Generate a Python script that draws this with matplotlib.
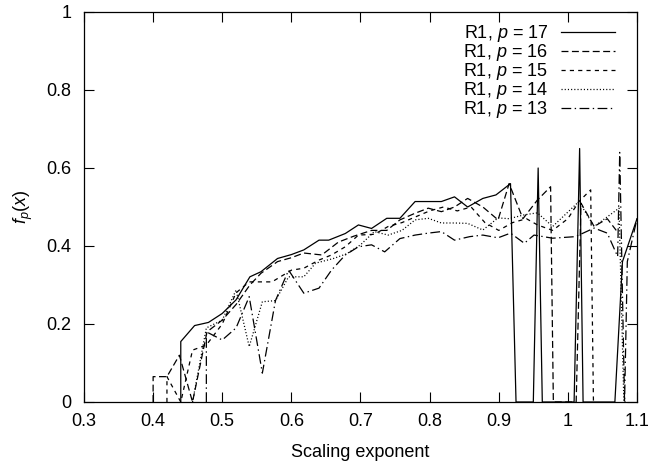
import matplotlib
matplotlib.use('Agg')
import matplotlib.pyplot as plt
from matplotlib.ticker import FormatStrFormatter

# values (scaling exponent vs f_p(x))
x17 = [0.44, 0.44, 0.46, 0.48, 0.50, 0.52, 0.54, 0.556, 0.58, 0.60, 0.618, 0.64, 0.654,
       0.678, 0.697, 0.716, 0.738, 0.757, 0.779, 0.80, 0.817, 0.836, 0.855, 0.877, 0.896,
       0.917, 0.925, 0.95, 0.957, 0.963, 1.009, 1.017, 1.022, 1.068, 1.079, 1.10]
y17 = [0.0, 0.155, 0.196, 0.204, 0.227, 0.262, 0.321, 0.334, 0.368, 0.378, 0.39, 0.415,
       0.415, 0.432, 0.454, 0.445, 0.471, 0.471, 0.514, 0.514, 0.514, 0.526, 0.50, 0.522,
       0.531, 0.56, 0.0, 0.0, 0.60, 0.0, 0.0, 0.65, 0.0, 0.0, 0.36, 0.47]

x16 = [0.40, 0.40, 0.42, 0.438, 0.457, 0.478, 0.50, 0.52, 0.54, 0.556, 0.58, 0.60, 0.618,
       0.644, 0.668, 0.69, 0.716, 0.738, 0.757, 0.779, 0.798, 0.817, 0.836, 0.855, 0.877,
       0.899, 0.915, 0.935, 0.956, 0.975, 0.979, 1.012, 1.019, 1.038, 1.057, 1.07]
y16 = [0.0, 0.065, 0.065, 0.12, 0.0, 0.18, 0.21, 0.25, 0.30, 0.33, 0.36, 0.37, 0.382,
       0.377, 0.41, 0.425, 0.44, 0.44, 0.467, 0.484, 0.497, 0.488, 0.50, 0.522, 0.50,
       0.467, 0.56, 0.47, 0.518, 0.552, 0.0, 0.0, 0.51, 0.45, 0.47, 0.44]

x15 = [0.42, 0.42, 0.44, 0.457, 0.477, 0.50, 0.52, 0.539, 0.572, 0.60, 0.618, 0.64, 0.658,
       0.678, 0.697, 0.72, 0.74, 0.76, 0.78, 0.80, 0.82, 0.84, 0.86, 0.88, 0.90, 0.92,
       0.94, 0.956, 0.978, 1.00, 1.016, 1.033, 1.037]
y15 = [0.0, 0.065, 0.0, 0.133, 0.146, 0.20, 0.28, 0.308, 0.308, 0.338, 0.343, 0.364, 0.377,
       0.398, 0.428, 0.43, 0.45, 0.46, 0.475, 0.49, 0.50, 0.49, 0.50, 0.46, 0.44, 0.46,
       0.47, 0.454, 0.44, 0.47, 0.514, 0.544, 0.0]

x14 = [0.457, 0.477, 0.50, 0.52, 0.539, 0.558, 0.577, 0.596, 0.618, 0.635, 0.661, 0.68,
       0.70, 0.72, 0.74, 0.76, 0.779, 0.798, 0.817, 0.836, 0.855, 0.877, 0.899, 0.915,
       0.937, 0.956, 0.978, 1.016, 1.038, 1.074, 1.081, 1.086]
y14 = [0.0, 0.19, 0.21, 0.287, 0.142, 0.257, 0.26, 0.321, 0.321, 0.356, 0.368, 0.38,
       0.403, 0.437, 0.428, 0.44, 0.467, 0.471, 0.459, 0.459, 0.458, 0.441, 0.472, 0.47,
       0.48, 0.485, 0.45, 0.514, 0.45, 0.497, 0.0, 0.0]

x13 = [0.477, 0.477, 0.50, 0.52, 0.539, 0.558, 0.577, 0.596, 0.618, 0.64, 0.658, 0.678,
       0.697, 0.716, 0.735, 0.757, 0.779, 0.798, 0.817, 0.836, 0.858, 0.877, 0.899, 0.917,
       0.937, 0.951, 0.978, 1.011, 1.038, 1.057, 1.072, 1.075, 1.082, 1.086, 1.10]
y13 = [0.0, 0.18, 0.159, 0.19, 0.27, 0.074, 0.26, 0.338, 0.279, 0.292, 0.338, 0.377,
       0.398, 0.403, 0.385, 0.419, 0.428, 0.433, 0.437, 0.415, 0.424, 0.428, 0.421, 0.433,
       0.407, 0.428, 0.42, 0.424, 0.446, 0.433, 0.373, 0.64, 0.0, 0.36, 0.47]

labels = ['R1, $p$ = 17', 'R1, $p$ = 16', 'R1, $p$ = 15', 'R1, $p$ = 14', 'R1, $p$ = 13']
xticks = [0.3, 0.4, 0.5, 0.6, 0.7, 0.8, 0.9, 1.0, 1.1]
yticks = [0, 0.2, 0.4, 0.6, 0.8, 1.0]

plt.rcParams['font.family'] = ['Liberation Sans', 'DejaVu Sans']
plt.rcParams['mathtext.fontset'] = 'custom'
plt.rcParams['mathtext.it'] = 'Liberation Sans:italic'
plt.rcParams['mathtext.rm'] = 'Liberation Sans'
plt.rcParams['lines.scale_dashes'] = False

fig = plt.figure(figsize=(6.5, 4.63), dpi=100)
ax = fig.add_axes([84 / 650, 61 / 463, 553 / 650, 390 / 463])

lw = 0.9
ax.plot(x17, y17, color='black', lw=lw, label=labels[0])
ax.plot(x16, y16, color='black', lw=lw, dashes=(5, 2.5), label=labels[1])
ax.plot(x15, y15, color='black', lw=lw, dashes=(3, 3), label=labels[2])
ax.plot(x14, y14, color='black', lw=lw, dashes=(0.8, 1.5), label=labels[3])
ax.plot(x13, y13, color='black', lw=lw, dashes=(7, 2.5, 1, 2.5), label=labels[4])

ax.set_xlim(0.3, 1.1)
ax.set_ylim(0, 1)
ax.set_xticks(xticks)
ax.set_yticks(yticks)
ax.xaxis.set_major_formatter(FormatStrFormatter('%g'))
ax.yaxis.set_major_formatter(FormatStrFormatter('%g'))
ax.tick_params(direction='in', length=7, width=0.8, top=True, right=True,
               labelsize=13)
ax.tick_params(axis='x', pad=8)
ax.tick_params(axis='y', pad=9)
for s in ax.spines.values():
    s.set_linewidth(0.9)

ax.set_xlabel('Scaling exponent', fontsize=13, labelpad=10)
ax.set_ylabel('$f_p(x)$', fontsize=13, labelpad=8)

ax.legend(loc='upper right', bbox_to_anchor=(615 / 650, 1 - 23 / 463),
          bbox_transform=fig.transFigure, frameon=False, markerfirst=False,
          fontsize=13, handlelength=3.0, handletextpad=0.7, labelspacing=-0.11,
          borderpad=0, borderaxespad=0)

fig.savefig('out.png', dpi=100)
